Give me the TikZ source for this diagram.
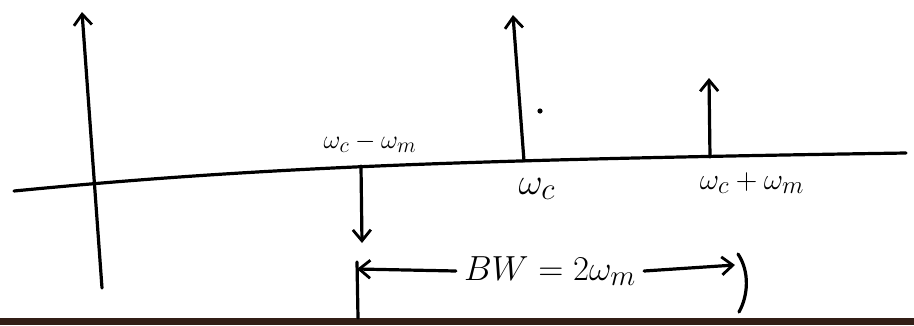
\documentclass[tikz,border=0pt]{standalone}
\usepackage{graphicx}
\usetikzlibrary{arrows.meta}
\definecolor{stripcol}{RGB}{50,30,22}
\tikzset{
  pen/.style={line width=3.2pt, line cap=round, line join=round, black},
  arr/.style={pen, -{Straight Barb[length=11pt,width=18pt,line width=2.8pt]}},
  lbl/.style={font=\Huge, inner sep=1pt},
  bwlbl/.style={font=\Huge, inner sep=8pt}
}
\begin{document}
\begin{tikzpicture}[x=1pt,y=-1pt]
\useasboundingbox (0,0) rectangle (914,325);
\fill[white] (0,0) rectangle (914,325);
\fill[stripcol] (0,318) rectangle (914,325);
% axes
\coordinate (hL) at (14,191);
\coordinate (hR) at (906,153);
\coordinate (vB) at (102,288);
\coordinate (vT) at (82,12);
\draw[pen] (hL) .. controls (250,168) and (450,160) .. (hR);
\draw[arr] (vB) -- (vT);
% impulses
\coordinate (cB) at (524,161);
\coordinate (cT) at (513,15);
\draw[arr] (cB) -- (cT);
\coordinate (lB) at (361,166);
\coordinate (lT) at (362,243);
\draw[arr] (lB) -- (lT);
\coordinate (uB) at (710,157);
\coordinate (uT) at (709,78);
\draw[arr] (uB) -- (uT);
\fill (540,111) circle (2.6);
% labels
\node[lbl] (lcm) at (370,143) {\scalebox{1.05}{$\omega_c-\omega_m$}};
\node[lbl] (lc) at (537,189) {\scalebox{1.5}{$\omega_c$}};
\node[lbl] (lcp) at (752,183) {\scalebox{1.2}{$\omega_c+\omega_m$}};
% bandwidth
\node[bwlbl] (bw) at (550,271) {\scalebox{1.4}{$BW = 2\omega_m$}};
\coordinate (bwL) at (357,269);
\coordinate (bwR) at (735,265);
\draw[arr] (bw.west) -- (bwL);
\draw[arr] (bw.east) -- (bwR);
\coordinate (tickT) at (357,262);
\coordinate (tickB) at (358,318);
\draw[pen] (tickT) -- (tickB);
\coordinate (parT) at (738,254);
\coordinate (parB) at (739,312);
\draw[pen] (parT) .. controls (750,272) and (748,296) .. (parB);
\end{tikzpicture}
\end{document}
